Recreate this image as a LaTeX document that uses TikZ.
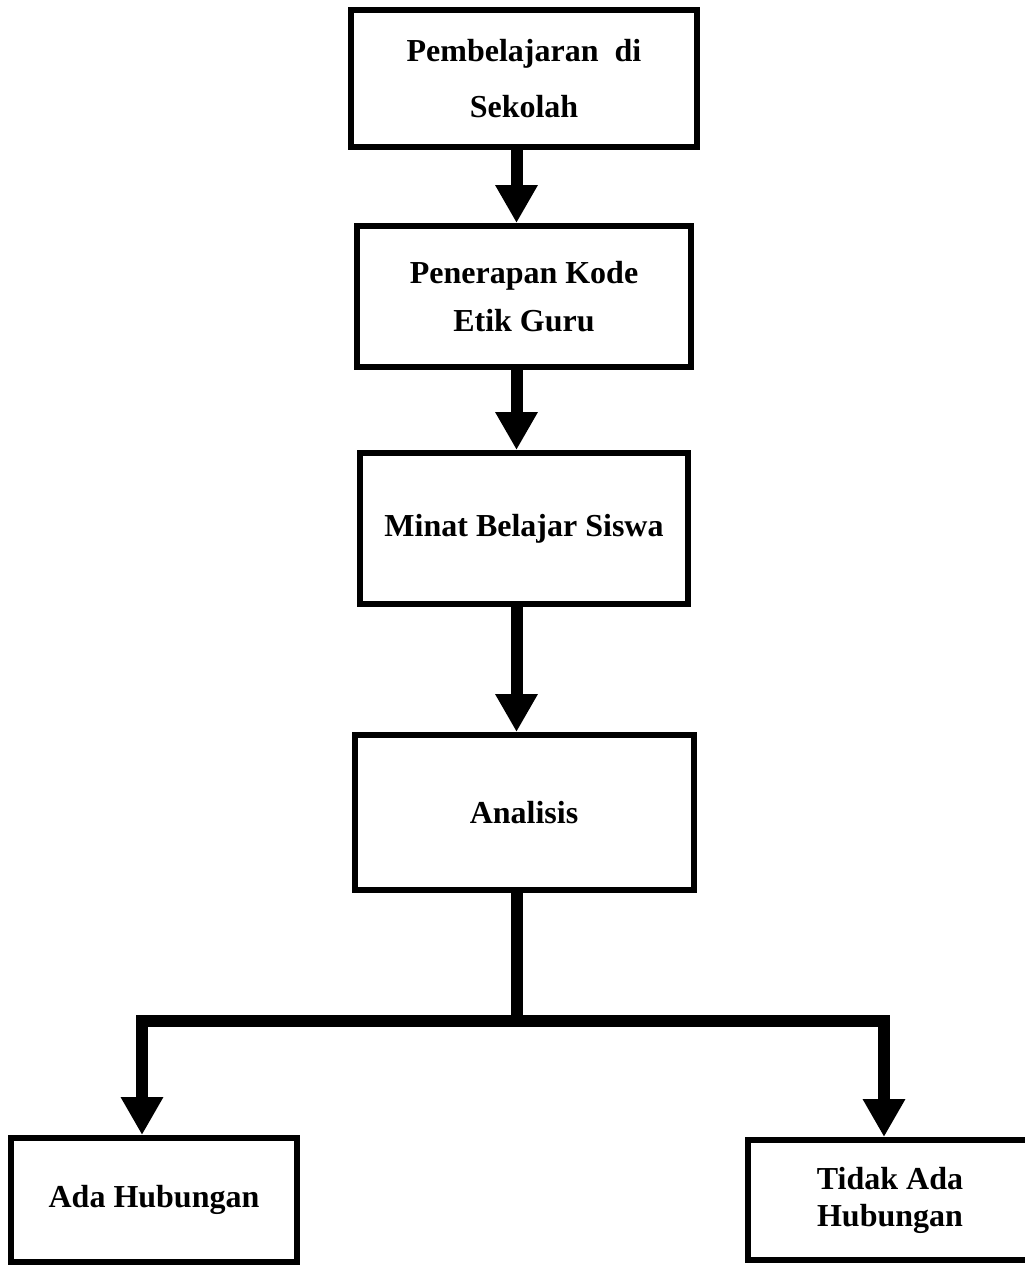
\documentclass[tikz,border=0pt]{standalone}
\usepackage{fontspec}
\setmainfont{Liberation Serif}
\usetikzlibrary{arrows.meta,positioning}

\begin{document}
\begin{tikzpicture}[
  x=1pt, y=-1pt,
  box/.style={draw, line width=6pt, align=center, inner sep=0pt,
    font=\fontsize{32}{37}\selectfont\bfseries},
  arrow/.style={-{Triangle[width=40pt,length=38pt]}, line width=12pt},
  trunk/.style={line width=12pt}
]
\useasboundingbox (0,0) rectangle (1025,1266);
\coordinate (spine) at (516.5,0);

\node[box, minimum width=346pt, minimum height=137pt] (sekolah) at (524,78.5) {Pembelajaran\ \ di\\[19pt]Sekolah};
\node[box, minimum width=334pt, minimum height=141pt, below=73pt of sekolah] (kode) {Penerapan Kode\\[11pt]Etik Guru};
\node[box, minimum width=328pt, minimum height=151pt, below=80pt of kode] (minat) {Minat Belajar Siswa};
\node[box, minimum width=339pt, minimum height=155pt, below=125pt of minat] (analisis) {Analisis};
\node[box, minimum width=286pt, minimum height=124pt] (ada) at (154,1200) {Ada Hubungan};
\node[box, minimum width=284pt, minimum height=120pt] (tidak) at (890,1200) {Tidak Ada\\Hubungan};

\coordinate (split) at (516.5,1021);
\coordinate (leftturn) at (142,1021);
\coordinate (rightturn) at (884,1021);

\draw[arrow] (sekolah.south -| spine) -- (kode.north -| spine);
\draw[arrow] (kode.south -| spine) -- (minat.north -| spine);
\draw[arrow] (minat.south -| spine) -- (analisis.north -| spine);
\draw[trunk] (analisis.south -| spine) -- (split);
\draw[arrow] (split) -- (leftturn) -- (leftturn |- ada.north);
\draw[arrow] (split) -- (rightturn) -- (rightturn |- tidak.north);
\end{tikzpicture}
\end{document}
